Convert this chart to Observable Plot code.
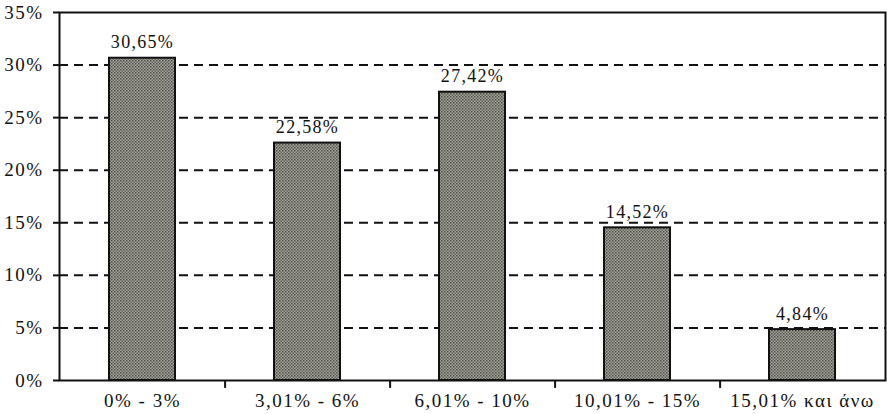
<!DOCTYPE html>
<html>
<head>
<meta charset="utf-8">
<script src="https://cdn.jsdelivr.net/npm/d3@7"></script>
<script src="https://cdn.jsdelivr.net/npm/@observablehq/plot@0.6"></script>
<style>
  html, body { margin: 0; padding: 0; background: #fff; }
  #chart svg { display: block; }
</style>
</head>
<body>
<div id="chart"></div>
<script>
const categories = ["0% - 3%", "3,01% - 6%", "6,01% - 10%", "10,01% - 15%", "15,01% και άνω"];
const values = [30.65, 22.58, 27.42, 14.52, 4.84];
const yTicks = [0, 5, 10, 15, 20, 25, 30, 35];
const gridTicks = [5, 10, 15, 20, 25, 30];

const data = categories.map((c, i) => ({category: c, value: values[i]}));

const W = 887, H = 414;
const mL = 59, mR = 2, mT = 12, mB = 34;
const step = (W - mL - mR) / categories.length;
const fmt = v => v.toFixed(2).replace(".", ",") + "%";

const chart = Plot.plot({
  width: W,
  height: H,
  marginLeft: mL,
  marginRight: mR,
  marginTop: mT,
  marginBottom: mB,
  style: {fontFamily: "'Liberation Serif', 'Times New Roman', serif", fontSize: "18px", color: "#111", background: "#fff"},
  x: {domain: categories, paddingInner: 0.6, paddingOuter: 0.3, axis: null},
  y: {domain: [0, 35], axis: null},
  marks: [
    Plot.ruleY(gridTicks, {stroke: "#111", strokeWidth: 2, strokeDasharray: "9,6"}),
    Plot.barY(data, {x: "category", y: "value", fill: "url(#dots)", stroke: "#111", strokeWidth: 2}),
    Plot.text(data, {x: "category", y: "value", text: d => fmt(d.value), lineAnchor: "bottom", dy: -10, fontSize: 18, fill: "#111", className: "vlabel"}),
    Plot.axisY({ticks: yTicks, tickFormat: d => d + "%", tickSize: 6, tickPadding: 10, fontSize: 19, stroke: "#111", strokeWidth: 2, label: null, className: "ylab"}),
    Plot.ruleX(categories.slice(0, categories.length - 1), {x: d => d, dx: step / 2, y1: 0, y2: -0.75, stroke: "#111", strokeWidth: 2}),
    Plot.text(categories, {x: d => d, frameAnchor: "bottom", dy: 26, fontSize: 19, fill: "#111", className: "xlab"}),
    Plot.frame({stroke: "#111", strokeWidth: 2})
  ]
});

// slightly wide lettering, as in the scanned original
const svg = d3.select(chart);
svg.selectAll(".vlabel text").style("letter-spacing", "1.3px");
svg.selectAll(".xlab text").style("letter-spacing", "1.5px");
svg.selectAll(".ylab text").style("letter-spacing", "1.5px");

// dotted texture for the bars
const defs = svg.insert("defs", ":first-child");
const pat = defs.append("pattern")
  .attr("id", "dots")
  .attr("width", 3).attr("height", 3)
  .attr("patternUnits", "userSpaceOnUse");
pat.append("rect").attr("width", 3).attr("height", 3).attr("fill", "#a2a29a");
pat.append("rect").attr("width", 1.5).attr("height", 1.5).attr("fill", "#505049");
pat.append("rect").attr("x", 1.5).attr("y", 1.5).attr("width", 1.5).attr("height", 1.5).attr("fill", "#66665f");

document.getElementById("chart").appendChild(chart);
</script>
</body>
</html>
